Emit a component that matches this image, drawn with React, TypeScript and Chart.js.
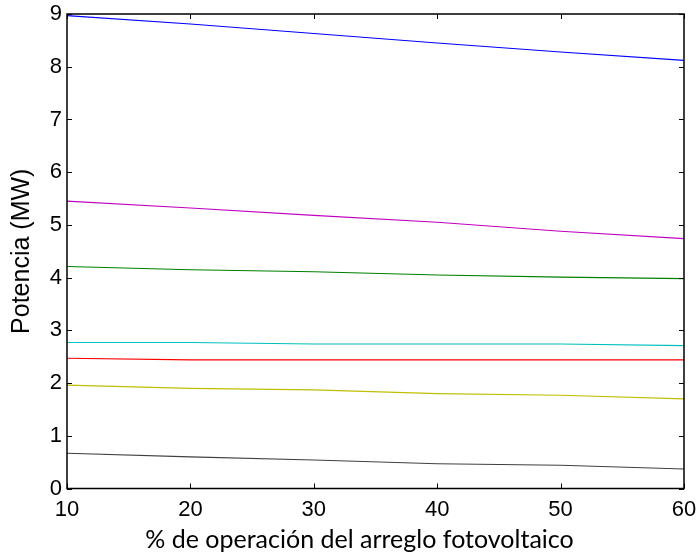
import React, { useEffect, useRef } from "react";
import { Chart, registerables } from "chart.js";

Chart.register(...registerables);

const xValues = [10, 20, 30, 40, 50, 60];
const blueSeries = [8.97, 8.81, 8.63, 8.45, 8.28, 8.12];
const magentaSeries = [5.45, 5.32, 5.18, 5.05, 4.88, 4.74];
const greenSeries = [4.21, 4.15, 4.11, 4.05, 4.01, 3.98];
const cyanSeries = [2.77, 2.77, 2.74, 2.74, 2.74, 2.71];
const redSeries = [2.47, 2.44, 2.44, 2.44, 2.44, 2.44];
const yellowSeries = [1.96, 1.9, 1.87, 1.8, 1.77, 1.7];
const blackSeries = [0.67, 0.6, 0.54, 0.47, 0.44, 0.37];

const xTitle = "% de operación del arreglo fotovoltaico";
const yTitle = "Potencia (MW)";

const seriesList = [
  { values: blueSeries, color: "#0000FF" },
  { values: magentaSeries, color: "#BF00BF" },
  { values: greenSeries, color: "#008000" },
  { values: cyanSeries, color: "#00BFBF" },
  { values: redSeries, color: "#FF0000" },
  { values: yellowSeries, color: "#BFBF00" },
  { values: blackSeries, color: "#404040" },
];

const framePlugin = {
  id: "matlabFrame",
  afterDatasetsDraw(chart: any) {
    const { ctx, chartArea, scales } = chart;
    const { left, right, top, bottom } = chartArea;
    const xs = scales.x;
    const ys = scales.y;
    const L = 5;
    ctx.save();
    ctx.strokeStyle = "#000";
    ctx.lineWidth = 1;
    ctx.beginPath();
    xs.ticks.forEach((t: any) => {
      const px = Math.round(xs.getPixelForValue(t.value)) + 0.5;
      ctx.moveTo(px, bottom);
      ctx.lineTo(px, bottom - L);
      ctx.moveTo(px, top);
      ctx.lineTo(px, top + L);
    });
    ys.ticks.forEach((t: any) => {
      const py = Math.round(ys.getPixelForValue(t.value)) + 0.5;
      ctx.moveTo(left, py);
      ctx.lineTo(left + L, py);
      ctx.moveTo(right, py);
      ctx.lineTo(right - L, py);
    });
    ctx.stroke();
    ctx.lineWidth = 1.5;
    ctx.strokeRect(left, top, right - left, bottom - top);
    ctx.restore();
  },
};

export default function App() {
  const ref = useRef<HTMLCanvasElement | null>(null);

  useEffect(() => {
    if (!ref.current) return;
    const chart = new Chart(ref.current, {
      type: "line",
      data: {
        datasets: seriesList.map((s) => ({
          data: xValues.map((x, i) => ({ x, y: s.values[i] })),
          borderColor: s.color,
          backgroundColor: s.color,
          borderWidth: 1.1,
          pointRadius: 0,
          tension: 0,
          fill: false,
        })),
      },
      options: {
        responsive: false,
        animation: false,
        layout: { padding: { top: 0, right: -22, left: 0, bottom: 0 } },
        plugins: {
          legend: { display: false },
          tooltip: { enabled: false },
          title: {
            display: true,
            position: "bottom",
            text: xTitle,
            color: "#000",
            font: { family: "Lato, sans-serif", size: 25, weight: "normal" },
            padding: { top: 0, bottom: 0 },
          },
        },
        scales: {
          x: {
            type: "linear",
            min: 10,
            max: 60,
            grid: { display: false, drawTicks: false },
            border: { display: false },
            ticks: {
              stepSize: 10,
              padding: 8,
              color: "#000",
              font: { family: "'Liberation Sans', Arial, sans-serif", size: 22 },
              maxRotation: 0,
            },
            afterFit(scale: any) {
              scale.height = 36.5;
              scale.paddingLeft = 0;
              scale.paddingRight = 13;
            },
          },
          y: {
            type: "linear",
            min: 0,
            max: 9,
            grid: { display: false, drawTicks: false },
            border: { display: false },
            ticks: {
              stepSize: 1,
              padding: 5,
              color: "#000",
              font: { family: "'Liberation Sans', Arial, sans-serif", size: 22 },
            },
            title: {
              display: true,
              text: yTitle,
              color: "#000",
              font: { family: "'Liberation Sans', Arial, sans-serif", size: 25 },
              padding: { top: 7, bottom: 0 },
            },
            afterFit(scale: any) {
              scale.width = 67;
              scale.paddingTop = 14;
              scale.paddingBottom = 0;
            },
          },
        },
      },
      plugins: [framePlugin],
    });
    return () => chart.destroy();
  }, []);

  return (
    <div style={{ position: "fixed", left: 0, top: 0, width: 697, height: 555, background: "#fff" }}>
      <canvas ref={ref} width={697} height={555} />
    </div>
  );
}
